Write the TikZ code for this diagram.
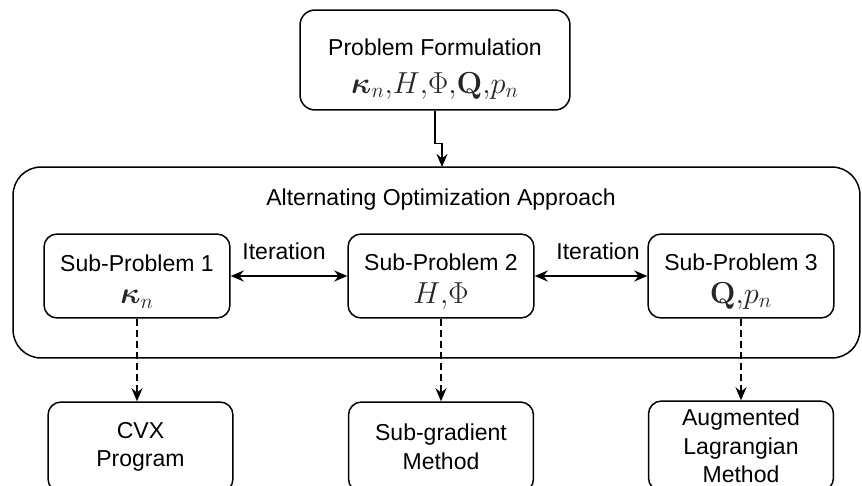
\documentclass[tikz,border=0pt]{standalone}
\usepackage[no-math]{fontspec}
\usepackage{bm}
\setmainfont{Liberation Sans}
\usetikzlibrary{arrows.meta,calc}
\newcommand{\mth}[1]{{\fontsize{16.5}{17}\selectfont\color{black!85}$#1$}}

\begin{document}
\begin{tikzpicture}[x=0.02cm, y=-0.02cm,
		font=\fontsize{13.1}{16.3}\selectfont,
		box/.style={draw, line width=0.85pt, rounded corners=0.26cm, align=center, inner sep=0pt},
		subbox/.style={box, minimum width=3.72cm, minimum height=1.68cm},
		methodbox/.style={box, minimum width=3.7cm, minimum height=1.8cm},
		arr/.style={line width=0.85pt, -{Stealth[length=0.26cm, width=0.22cm]}},
		twoarr/.style={line width=0.85pt, {Stealth[length=0.26cm, width=0.22cm]}-{Stealth[length=0.26cm, width=0.22cm]}},
		dasharr/.style={arr, dash pattern=on 0.14cm off 0.08cm}]
		%%%%% START %%%%%
		
		\useasboundingbox (0, 0) rectangle (862, 486);
		
		\node[box, minimum width=5.4cm, minimum height=2cm, rounded corners=0.3cm] (form) at (435, 60) {};
		\node[align=center] (formtext) at (435, 69) {Problem Formulation\\[0.18cm] \mth{\bm{\kappa}_n{,}H{,}\Phi{,}\mathbf{Q}{,}p_n}};
		
		\node[box, minimum width=16.94cm, minimum height=3.82cm, rounded corners=0.56cm] (opt) at (436.5, 262.5) {};
		\node (opttitle) at (441, 200) {Alternating Optimization Approach};
		
		\node[subbox] (sp1) at (137, 276) {};
		\node[subbox] (sp2) at (441, 276) {};
		\node[subbox] (sp3) at (741, 276) {};
		\node[align=center] (sp1text) at (137, 281.5) {Sub-Problem 1\\[0.08cm] \mth{\bm{\kappa}_n}};
		\node[align=center] (sp2text) at (441, 281.5) {Sub-Problem 2\\[0.08cm] \mth{H{,}\Phi}};
		\node[align=center] (sp3text) at (741, 281.5) {Sub-Problem 3\\[0.08cm] \mth{\mathbf{Q}{,}p_n}};
		
		\node (it1) at (284, 251) {Iteration};
		\node (it2) at (598, 251) {Iteration};
		
		\node[methodbox] (cvx) at (140.5, 447) {CVX\\Program};
		\node[methodbox] (subgrad) at (441, 447) {Sub-gradient\\Method};
		\node[methodbox] (alm) at (741, 446) {Augmented\\Lagrangian\\Method};
		
		\coordinate (entry) at (442, 167);
		\draw[arr] (form.south) -- ++(0, 33) -| (entry);
		
		\draw[twoarr] (sp1.east) -- (sp2.west);
		\draw[twoarr] (sp2.east) -- (sp3.west);
		
		\draw[dasharr] (sp1.south) -- (sp1.south |- cvx.north);
		\draw[dasharr] (sp2.south) -- (sp2.south |- subgrad.north);
		\draw[dasharr] (sp3.south) -- (sp3.south |- alm.north);
		
		%%%%% END %%%%%
\end{tikzpicture}
\end{document}
